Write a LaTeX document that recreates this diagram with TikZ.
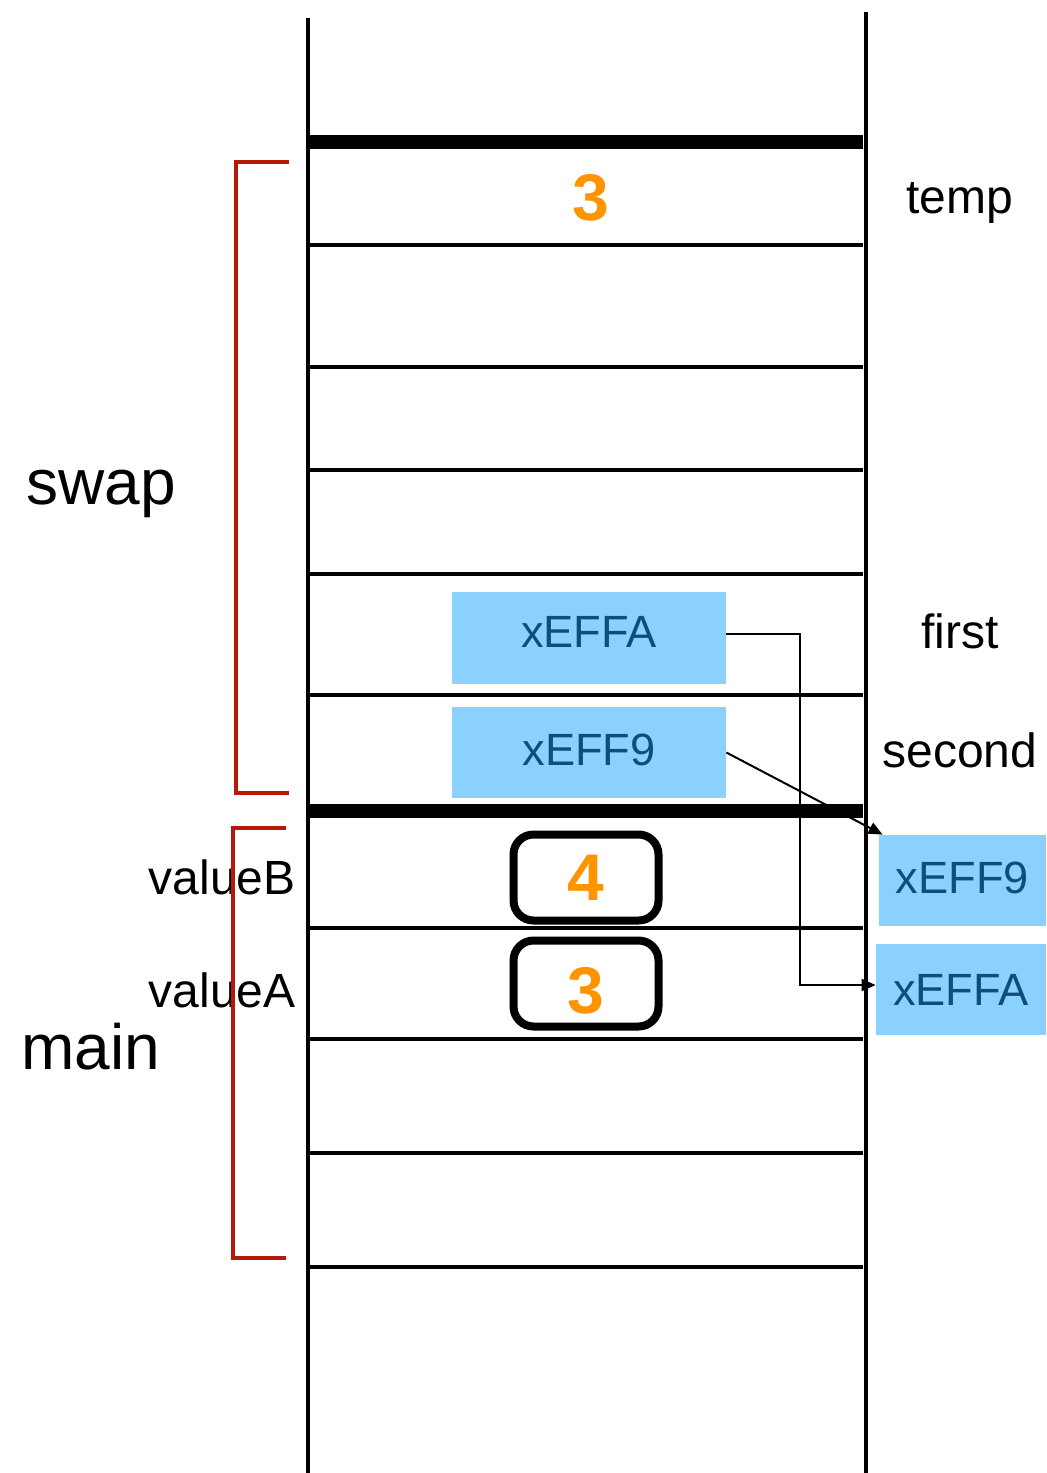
\documentclass[tikz,border=0pt]{standalone}
\usepackage{fontspec}
\setmainfont{Liberation Sans}
\usetikzlibrary{arrows.meta}
\definecolor{boxblue}{RGB}{138,210,253}
\definecolor{textblue}{RGB}{14,78,120}
\definecolor{bracketred}{RGB}{184,24,8}
\definecolor{numorange}{RGB}{255,147,0}
\tikzset{
  rail/.style={line width=2.2pt},
  thinrow/.style={line width=2pt},
  thickrow/.style={line width=7pt},
  bracket/.style={line width=1.6pt, draw=bracketred},
  bluebox/.style={fill=boxblue, text=textblue, inner sep=0pt, text height=16.2pt, font=\fontsize{22.6}{27}\selectfont},
  valbox/.style={draw, line width=4pt, rounded corners=10pt, minimum width=72.5pt, minimum height=43pt, inner sep=0pt, text=numorange, font=\bfseries\fontsize{33}{38}\selectfont},
  num/.style={inner sep=0pt, text=numorange, font=\bfseries\fontsize{33}{38}\selectfont},
  lbl/.style={inner sep=0pt, font=\fontsize{24}{29}\selectfont},
  biglbl/.style={inner sep=0pt, font=\fontsize{32}{38}\selectfont},
  ptr/.style={line width=1pt, -{Triangle[length=7pt,width=6pt]}}
}
\begin{document}
\begin{tikzpicture}[x=0.5pt,y=-0.5pt]
\useasboundingbox (0,0) rectangle (1046,1473);
% rows
\foreach \y in {245,367,470,574,695,928,1039,1153,1267}
  \draw[thinrow] (308,\y) -- (863,\y);
\draw[thickrow] (308,142) -- (863,142);
\draw[thickrow] (308,811) -- (863,811);
% rails
\draw[rail] (308,18) -- (308,1473);
\draw[rail] (866,12) -- (866,1473);
% boxes
\node[bluebox, text depth=7pt, minimum width=137pt, minimum height=46pt] (bA) at (589,638) {xEFFA};
\node[bluebox, text depth=3pt, minimum width=137pt, minimum height=45.5pt] (bB) at (589,752.5) {xEFF9};
\node[bluebox, text depth=3pt, minimum width=83.5pt, minimum height=45.5pt] (rB) at (962.5,880.5) {xEFF9};
\node[bluebox, text depth=0pt, minimum width=85pt, minimum height=45.5pt] (rA) at (961,989.5) {xEFFA};
\node[valbox] (vB) at (586,877.5) {4};
\node[valbox, text height=29.6pt, text depth=0pt] (vA) at (586,983.5) {3};
\node[num] (t3) at (591,198) {3};
% labels
\node[lbl] (ltemp) at (960,203) {temp};
\node[lbl] (lfirst) at (960,631) {first};
\node[lbl] (lsecond) at (960,750) {second};
\node[lbl, anchor=east] (lvB) at (296,877) {valueB};
\node[lbl, anchor=east] (lvA) at (296,990) {valueA};
\node[biglbl] (lswap) at (101,494) {swap};
\node[biglbl] (lmain) at (91,1047) {main};
% brackets
\draw[bracket] (289,162) -- (236,162) -- (236,793) -- (289,793);
\draw[bracket] (286,828) -- (233,828) -- (233,1258) -- (286,1258);
% pointers
\draw[ptr] ([yshift=2pt]bA.east) -- ++(74,0) |- ([yshift=2.25pt]rA.west);
\draw[ptr] (bB.east) -- ([xshift=2pt]rB.north west);
\end{tikzpicture}
\end{document}
